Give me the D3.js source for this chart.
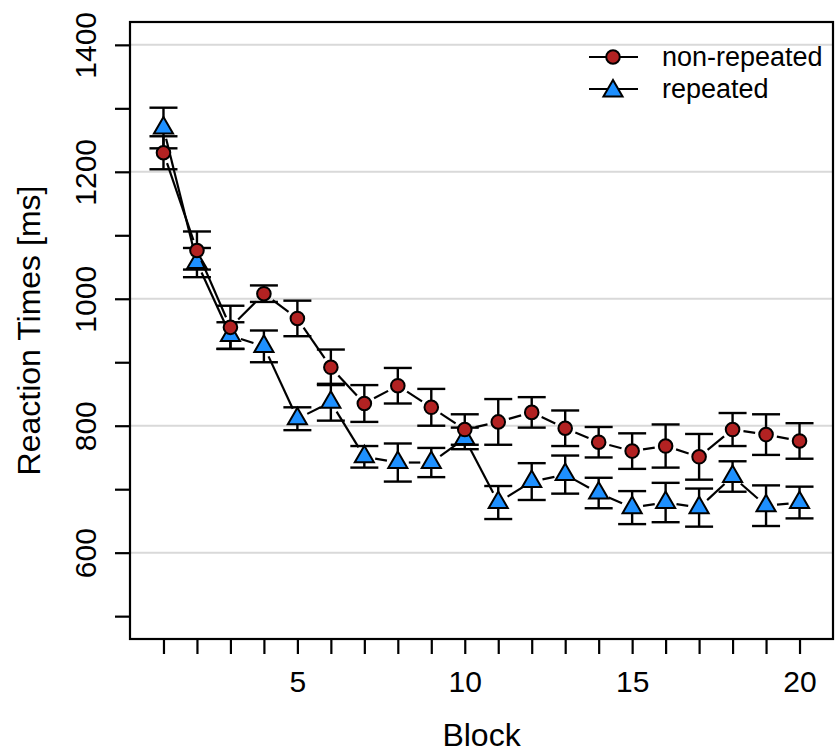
<!DOCTYPE html>
<meta charset="utf-8">
<style>
  body { margin: 0; background: #fff; }
  svg text { font-family: "Liberation Sans", Arial, sans-serif; fill: #000; }
</style>
<svg width="835" height="754"></svg>
<script src="https://cdn.jsdelivr.net/npm/d3@7"></script>
<script>

// data
var blocks = [1, 2, 3, 4, 5, 6, 7, 8, 9, 10, 11, 12, 13, 14, 15, 16, 17, 18, 19, 20];
var nonRepMean = [1230, 1076, 955, 1008, 969, 892, 835, 863, 829, 794, 806, 821, 796, 774, 760, 768, 751, 794, 786, 776];
var nonRepSE   = [26, 30, 34, 13, 28, 28, 29, 28, 29, 24, 36, 24, 28, 24, 28, 34, 36, 26, 32, 28];
var repMean = [1269, 1057, 942, 925, 811, 837, 751, 742, 742, 780, 679, 712, 723, 694, 671, 679, 671, 720, 674, 679];
var repSE   = [32, 23, 21, 25, 18, 29, 17, 30, 23, 17, 26, 29, 30, 24, 26, 31, 30, 24, 32, 25];
var yTicks = [500, 600, 700, 800, 900, 1000, 1100, 1200, 1300, 1400];
var yLabels = [600, 800, 1000, 1200, 1400];
var xLabels = [5, 10, 15, 20];
var seriesNames = ["non-repeated", "repeated"];

var svg = d3.select("svg");
var pLeft = 130, pRight = 833, pTop = 22, pBottom = 639;

var x = d3.scaleLinear().domain([0, 21]).range([pLeft, pRight]);
var y = d3.scaleLinear().domain([464, 1436]).range([pBottom, pTop]);

// grid
svg.append("g").selectAll("line")
    .data(yLabels)
  .enter().append("line")
    .attr("x1", pLeft).attr("x2", pRight)
    .attr("y1", function(d){ return y(d); })
    .attr("y2", function(d){ return y(d); })
    .attr("stroke", "#d9d9d9")
    .attr("stroke-width", 2);

// axes
var yAxis = d3.axisLeft(y).tickValues(yTicks).tickSize(15)
    .tickFormat(function(d){ return yLabels.indexOf(d) >= 0 ? d : ""; });
var gy = svg.append("g").attr("transform", "translate(" + pLeft + ",0)").call(yAxis);
gy.select(".domain").remove();
gy.selectAll("line").attr("stroke", "#000").attr("stroke-width", 2.2);
gy.selectAll("text")
    .attr("font-size", 30)
    .attr("x", 0).attr("y", 0).attr("dy", "0.35em")
    .attr("text-anchor", "middle")
    .attr("transform", "translate(-45,0) rotate(-90)");

var xAxis = d3.axisBottom(x).tickValues(blocks).tickSize(15)
    .tickFormat(function(d){ return xLabels.indexOf(d) >= 0 ? d : ""; });
var gx = svg.append("g").attr("transform", "translate(0," + pBottom + ")").call(xAxis);
gx.select(".domain").remove();
gx.selectAll("line").attr("stroke", "#000").attr("stroke-width", 2.2);
gx.selectAll("text").attr("font-size", 30).attr("y", 32).attr("dy", "0.71em");

svg.append("rect")
    .attr("x", pLeft).attr("y", pTop)
    .attr("width", pRight - pLeft).attr("height", pBottom - pTop)
    .attr("fill", "none").attr("stroke", "#000").attr("stroke-width", 2.2);

svg.append("text")
    .attr("x", (pLeft + pRight) / 2).attr("y", 746)
    .attr("text-anchor", "middle").attr("font-size", 32)
    .text("Block");
svg.append("text")
    .attr("transform", "translate(40," + (pTop + pBottom) / 2 + ") rotate(-90)")
    .attr("text-anchor", "middle").attr("font-size", 32)
    .text("Reaction Times [ms]");

// series
var series = [
  { name: seriesNames[1], mean: repMean, se: repSE, shape: "tri", fill: "#1e90ff" },
  { name: seriesNames[0], mean: nonRepMean, se: nonRepSE, shape: "circ", fill: "#b22222" }
];

function triPath(cx, cy) {
  var xc = 7.1;
  return "M" + cx + "," + (cy - 1.555 * xc) +
         "L" + (cx + 1.347 * xc) + "," + (cy + 0.778 * xc) +
         "L" + (cx - 1.347 * xc) + "," + (cy + 0.778 * xc) + "Z";
}

// error bars first (both series)
series.forEach(function(s) {
  var g = svg.append("g").attr("stroke", "#000").attr("stroke-width", 2.4);
  blocks.forEach(function(b, i) {
    var lo = y(s.mean[i] - s.se[i]), hi = y(s.mean[i] + s.se[i]);
    g.append("line").attr("x1", x(b)).attr("x2", x(b)).attr("y1", lo).attr("y2", hi);
    g.append("line").attr("x1", x(b) - 14).attr("x2", x(b) + 14).attr("y1", lo).attr("y2", lo);
    g.append("line").attr("x1", x(b) - 14).attr("x2", x(b) + 14).attr("y1", hi).attr("y2", hi);
  });
});

// lines with gaps (type "b") and points
var gap = 11;
series.forEach(function(s) {
  var g = svg.append("g");
  for (var i = 0; i < blocks.length - 1; i++) {
    var x0 = x(blocks[i]), y0 = y(s.mean[i]), x1 = x(blocks[i + 1]), y1 = y(s.mean[i + 1]);
    var len = Math.hypot(x1 - x0, y1 - y0);
    if (len <= 2 * gap) continue;
    var ux = (x1 - x0) / len, uy = (y1 - y0) / len;
    g.append("line")
        .attr("x1", x0 + ux * gap).attr("y1", y0 + uy * gap)
        .attr("x2", x1 - ux * gap).attr("y2", y1 - uy * gap)
        .attr("stroke", "#000").attr("stroke-width", 2.2);
  }
  blocks.forEach(function(b, i) {
    if (s.shape === "circ") {
      g.append("circle").attr("cx", x(b)).attr("cy", y(s.mean[i])).attr("r", 6.8)
          .attr("fill", s.fill).attr("stroke", "#000").attr("stroke-width", 2);
    } else {
      g.append("path").attr("d", triPath(x(b), y(s.mean[i])))
          .attr("fill", s.fill).attr("stroke", "#000").attr("stroke-width", 2);
    }
  });
});

// legend
var legend = svg.append("g");
[{ name: seriesNames[0], shape: "circ", fill: "#b22222", ly: 57 },
 { name: seriesNames[1], shape: "tri", fill: "#1e90ff", ly: 89 }].forEach(function(d) {
  legend.append("line").attr("x1", 589).attr("x2", 638).attr("y1", d.ly).attr("y2", d.ly)
      .attr("stroke", "#000").attr("stroke-width", 2.2);
  if (d.shape === "circ") {
    legend.append("circle").attr("cx", 613).attr("cy", d.ly).attr("r", 6.8)
        .attr("fill", d.fill).attr("stroke", "#000").attr("stroke-width", 2);
  } else {
    legend.append("path").attr("d", triPath(613, d.ly + 2))
        .attr("fill", d.fill).attr("stroke", "#000").attr("stroke-width", 2);
  }
  legend.append("text").attr("x", 662).attr("y", d.ly).attr("dy", "0.35em")
      .attr("font-size", 27).text(d.name);
});

</script>
